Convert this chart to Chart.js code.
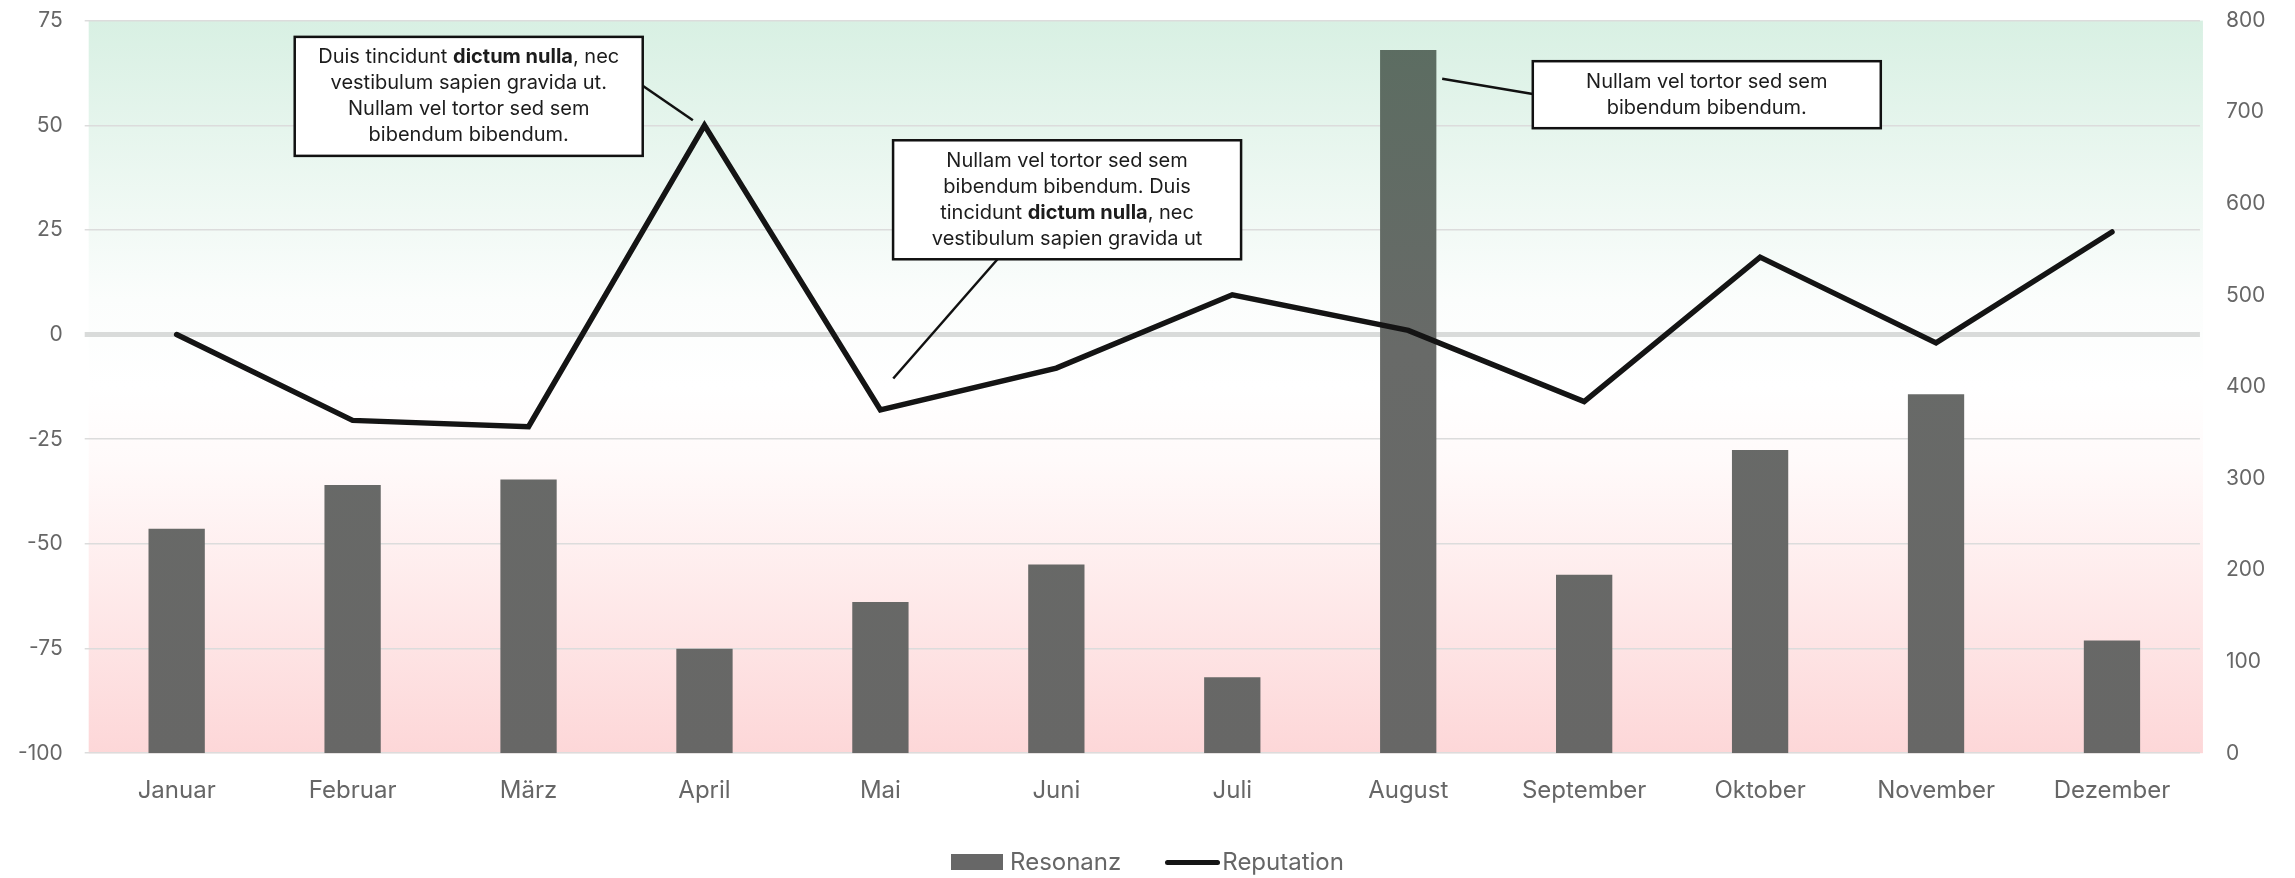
<!DOCTYPE html>
<html lang="de">
<head>
<meta charset="UTF-8">
<title>Resonanz und Reputation</title>
<script src="https://cdn.jsdelivr.net/npm/chart.js"></script>
<style>
  body { margin: 0; background: #fff; font-family: Inter, "Noto Sans", sans-serif; }
  #wrap { position: relative; width: 2295px; height: 878px; overflow: hidden; }
  #box { position: absolute; left: -4px; top: -14px; width: 2299px; height: 892px; }
  #legend { position: absolute; left: 0; right: 0; top: 848px; display: flex; justify-content: center; align-items: center; gap: 44px; font-size: 24px; color: #666; line-height: 28px; }
  #legend .item { display: flex; align-items: center; }
  #legend .bar { width: 52px; height: 16px; background: #676767; margin-right: 7px; }
  #legend .line { width: 55px; height: 5px; border-radius: 3px; background: #151515; margin-right: 2px; }
</style>
</head>
<body>
<div id="wrap">
  <div id="box"><canvas id="chart"></canvas></div>
  <div id="legend">
    <div class="item"><span class="bar"></span>Resonanz</div>
    <div class="item"><span class="line"></span>Reputation</div>
  </div>
</div>
<script>
// data
const months = ['Januar', 'Februar', 'März', 'April', 'Mai', 'Juni', 'Juli', 'August', 'September', 'Oktober', 'November', 'Dezember'];
const resonanz = [245, 293, 299, 114, 165, 206, 83, 768, 195, 331, 392, 123];
const reputation = [0, -20.5, -22, 50, -18, -8, 9.5, 1, -16, 18.5, -2, 24.5];

const repTicks = { min: -100, max: 75, step: 25 };
const resTicks = { min: 0, max: 800, step: 100 };

// callouts: box centre in (category index, left-axis value), leader end likewise
const notes = [
    {
        lines: ['Duis tincidunt **dictum nulla**, nec', 'vestibulum sapien gravida ut.', 'Nullam vel tortor sed sem', 'bibendum bibendum.'],
        at: [1.66, 56.9], side: 'right', frac: 0.41, to: [2.934, 51.2]
    },
    {
        lines: ['Nullam vel tortor sed sem', 'bibendum bibendum. Duis', 'tincidunt **dictum nulla**, nec', 'vestibulum sapien gravida ut'],
        at: [5.061, 32.2], side: 'bottom', frac: 0.30, to: [4.073, -10.5]
    },
    {
        lines: ['Nullam vel tortor sed sem', 'bibendum bibendum.'],
        at: [8.697, 57.3], side: 'left', frac: 0.49, to: [7.193, 61.1]
    }
];

const font = 'Inter, "Noto Sans", sans-serif';

const bgPlugin = {
    id: 'bg',
    beforeDraw(chart) {
        const a = chart.chartArea, c = chart.ctx;
        const g = c.createLinearGradient(0, a.top, 0, a.bottom);
        g.addColorStop(0, '#d8f0e3');
        g.addColorStop(0.38, '#fbfdfc');
        g.addColorStop(0.5, '#ffffff');
        g.addColorStop(0.6, '#fffafa');
        g.addColorStop(1, '#fdd7d8');
        c.save();
        c.fillStyle = g;
        c.fillRect(a.left, a.top, a.right - a.left + 3, a.bottom - a.top);
        c.restore();
    }
};

function segs(line) {
    return line.split('**').map((t, i) => ({ t: t, b: i % 2 === 1 }));
}

const notePlugin = {
    id: 'notes',
    afterDatasetsDraw(chart) {
        const c = chart.ctx, x = chart.scales.x, y = chart.scales.y;
        const lh = 26, w = 348;
        c.save();
        notes.forEach(n => {
            const cx = x.getPixelForValue(n.at[0]), cy = y.getPixelForValue(n.at[1]);
            const h = n.lines.length * lh + 15;
            const l = cx - w / 2, t = cy - h / 2;
            let sx, sy;
            if (n.side === 'right') { sx = l + w; sy = t + h * n.frac; }
            else if (n.side === 'left') { sx = l; sy = t + h * n.frac; }
            else { sx = l + w * n.frac; sy = t + h; }
            c.strokeStyle = '#111';
            c.lineWidth = 2.5;
            c.beginPath();
            c.moveTo(sx, sy);
            c.lineTo(x.getPixelForValue(n.to[0]), y.getPixelForValue(n.to[1]));
            c.stroke();
            c.fillStyle = '#fff';
            c.fillRect(l, t, w, h);
            c.lineWidth = 2.5;
            c.strokeRect(l, t, w, h);
            c.fillStyle = '#1c1c1c';
            c.textBaseline = 'middle';
            n.lines.forEach((line, i) => {
                const parts = segs(line);
                let tw = 0;
                parts.forEach(p => { c.font = (p.b ? '700 ' : '400 ') + '20px ' + font; p.w = c.measureText(p.t).width; tw += p.w; });
                let px = cx - tw / 2;
                const py = t + 7.5 + lh * i + lh / 2;
                parts.forEach(p => {
                    c.font = (p.b ? '700 ' : '400 ') + '20px ' + font;
                    c.textAlign = 'left';
                    c.fillText(p.t, px, py);
                    px += p.w;
                });
            });
        });
        c.restore();
    }
};

new Chart(document.getElementById('chart'), {
    data: {
        labels: months,
        datasets: [
            {
                type: 'line',
                label: 'Reputation',
                data: reputation,
                yAxisID: 'y',
                borderColor: '#141414',
                borderWidth: 5.5,
                borderJoinStyle: 'miter',
                borderCapStyle: 'round',
                pointRadius: 0,
                tension: 0,
                order: 0
            },
            {
                type: 'bar',
                label: 'Resonanz',
                data: resonanz,
                yAxisID: 'y1',
                backgroundColor: ctx => {
                    const a = ctx.chart.chartArea;
                    if (!a) return '#666';
                    const g = ctx.chart.ctx.createLinearGradient(0, a.top, 0, a.bottom);
                    g.addColorStop(0, '#5b6d61');
                    g.addColorStop(0.45, '#686a68');
                    g.addColorStop(1, '#676766');
                    return g;
                },
                barPercentage: 0.32,
                categoryPercentage: 1,
                order: 1
            }
        ]
    },
    options: {
        responsive: true,
        maintainAspectRatio: false,
        animation: false,
        layout: { padding: { left: 0, right: 11, top: 0, bottom: 58 } },
        plugins: {
            legend: { display: false },
            tooltip: { enabled: false }
        },
        scales: {
            x: {
                grid: { display: false },
                border: { display: false },
                ticks: { color: '#666', font: { family: font, size: 24 }, padding: 15 }
            },
            y: {
                position: 'left',
                min: repTicks.min,
                max: repTicks.max,
                border: { display: false },
                grid: {
                    color: c => c.tick && c.tick.value === 0 ? '#d9dbda' : '#dcdcdc',
                    lineWidth: c => c.tick && c.tick.value === 0 ? 5 : 1.5,
                    tickLength: 4
                },
                ticks: { stepSize: repTicks.step, color: '#666', font: { family: font, size: 21 }, padding: 22 }
            },
            y1: {
                position: 'right',
                min: resTicks.min,
                max: resTicks.max,
                border: { display: false },
                grid: { display: false },
                ticks: { stepSize: resTicks.step, color: '#666', font: { family: font, size: 21 }, padding: 18 }
            }
        }
    },
    plugins: [bgPlugin, notePlugin]
});
</script>
</body>
</html>
